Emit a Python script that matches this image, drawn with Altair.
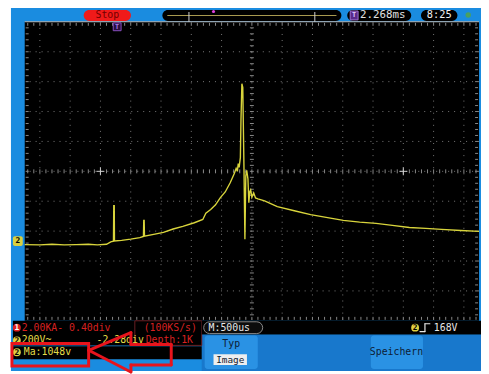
import altair as alt
import pandas as pd

# ---------------- data read from the screen ----------------
# time in ms (M: 500 us / div, trigger at centre), CH2 position in divisions
time_ms = [-3.75, -3.5, -3.3, -3.1, -2.9, -2.7, -2.55, -2.40, -2.33,
           -2.285, -2.28, -2.272, -2.268,
           -2.15, -2.0, -1.85, -1.79, -1.785, -1.778, -1.773,
           -1.6, -1.46, -1.3, -1.14, -0.95, -0.81, -0.76, -0.68, -0.60, -0.52,
           -0.44, -0.36, -0.29, -0.26, -0.24, -0.225, -0.21, -0.19, -0.18,
           -0.165, -0.15, -0.13, -0.115, -0.10, -0.085, -0.065, -0.05, -0.035,
           -0.02, 0.0, 0.03, 0.06, 0.10, 0.21, 0.42, 0.70, 0.97, 1.25, 1.51,
           1.78, 2.05, 2.32, 2.60, 2.87, 3.13, 3.45, 3.75]
ch2_div = [-2.45, -2.46, -2.44, -2.46, -2.45, -2.44, -2.46, -2.44, -2.36,
           -2.34, -1.15, -1.15, -2.33,
           -2.31, -2.27, -2.22, -2.18, -1.64, -1.64, -2.17,
           -2.10, -2.04, -1.93, -1.84, -1.72, -1.61, -1.40, -1.28, -1.12, -0.88,
           -0.69, -0.39, -0.07, 0.10, 0.0, 0.26, 0.13, 0.46, 1.7,
           2.93, 2.80, 0.05, -2.27, -0.15, 0.03, -0.25, -1.05, -0.68,
           -0.62, -0.86, -0.72, -0.89, -0.92, -0.99, -1.18, -1.32, -1.45, -1.55, -1.64,
           -1.70, -1.74, -1.81, -1.88, -1.91, -1.94, -1.98, -2.01]

v_grid_ms = [-3.5, -3.0, -2.5, -2.0, -1.5, -1.0, -0.5, 0.0, 0.5, 1.0, 1.5, 2.0, 2.5, 3.0, 3.5]
h_grid_div = [-4, -3, -2, -1, 0, 1, 2, 3, 4]
cross_ms = [-2.5, 2.5]
minor_x = [round(-3.7 + 0.1 * i, 2) for i in range(75)]
minor_y = [round(-4.8 + 0.2 * i, 2) for i in range(49)]

# ---------------- layout ----------------
W, H = 462, 304
OX, OY = 25, 19          # page position of the plot area
ONE = pd.DataFrame({"k": [0]})
FONT = "DejaVu Sans Mono"

xs = alt.Scale(domain=[-3.75, 3.75], nice=False, zero=False)
ys = alt.Scale(domain=[-5, 5], nice=False, zero=False)

BLUE = "#1a8ce0"
BLUE_DK = "#1878cc"
BTN = "#2a92e4"
RED_T = "#d82020"
YEL_T = "#e4dc48"
TRACE = "#d8d43c"
GRID = "#7a7a7a"
ARROW = "#e8141c"


def rect(x1, y1, x2, y2, fill, stroke=None, sw=1, r=0):
    kw = dict(fill=fill, cornerRadius=r)
    if stroke:
        kw.update(stroke=stroke, strokeWidth=sw)
    return alt.Chart(ONE).mark_rect(**kw).encode(
        x=alt.value(x1 - OX), x2=alt.value(x2 - OX),
        y=alt.value(y1 - OY), y2=alt.value(y2 - OY))


def seg(x1, y1, x2, y2, color, sw=1):
    return alt.Chart(ONE).mark_rule(color=color, strokeWidth=sw, strokeCap="round").encode(
        x=alt.value(x1 - OX), x2=alt.value(x2 - OX),
        y=alt.value(y1 - OY), y2=alt.value(y2 - OY))


def text(x, y, s, color, size=10, align="left", weight="normal"):
    return alt.Chart(ONE).mark_text(
        align=align, baseline="middle", font=FONT, fontSize=size,
        color=color, fontWeight=weight).encode(
        x=alt.value(x - OX), y=alt.value(y - OY), text=alt.value(s))


def dot(x, y, color, size=64):
    return alt.Chart(ONE).mark_circle(size=size, color=color, opacity=1).encode(
        x=alt.value(x - OX), y=alt.value(y - OY))


layers = []
# frame + screen
layers.append(rect(11, 0, 489, 374, BLUE))
layers.append(rect(25, 19, 487, 323, "black"))
layers.append(rect(25, 18.5, 487, 19.5, "#b8b8b8"))

# grid
vg = pd.DataFrame({"t": v_grid_ms})
hg = pd.DataFrame({"v": h_grid_div})
layers.append(alt.Chart(vg).mark_rule(color=GRID, strokeWidth=1, strokeDash=[1, 5.16]).encode(
    x=alt.X("t:Q", scale=xs, axis=None)))
layers.append(alt.Chart(hg).mark_rule(color=GRID, strokeWidth=1, strokeDash=[1, 5.08]).encode(
    y=alt.Y("v:Q", scale=ys, axis=None)))

mx = pd.DataFrame({"t": minor_x})
my = pd.DataFrame({"v": minor_y})
for y1, y2 in [(1, 4), (H - 4, H - 1), (H / 2 - 2, H / 2 + 2)]:
    layers.append(alt.Chart(mx).mark_rule(color="#8a8a8a", strokeWidth=1).encode(
        x=alt.X("t:Q", scale=xs, axis=None), y=alt.value(y1), y2=alt.value(y2)))
for x1, x2 in [(1, 4), (W - 4, W - 1), (W / 2 - 2, W / 2 + 2)]:
    layers.append(alt.Chart(my).mark_rule(color="#8a8a8a", strokeWidth=1).encode(
        y=alt.Y("v:Q", scale=ys, axis=None), x=alt.value(x1), x2=alt.value(x2)))

cr = pd.DataFrame({"t": cross_ms, "v": [0, 0]})
layers.append(alt.Chart(cr).mark_point(shape="M-1,0H1M0,-1V1", size=64, stroke="#d0d0d0",
                                       strokeWidth=1, opacity=1).encode(
    x=alt.X("t:Q", scale=xs, axis=None), y=alt.Y("v:Q", scale=ys, axis=None)))

# trace
tr = pd.DataFrame({"t": time_ms, "v": ch2_div, "i": list(range(len(time_ms)))})
layers.append(alt.Chart(tr).mark_line(color=TRACE, strokeWidth=1.4).encode(
    x=alt.X("t:Q", scale=xs, axis=None), y=alt.Y("v:Q", scale=ys, axis=None),
    order="i:Q"))

# markers on the screen
layers.append(rect(13, 237, 23, 247, "#d8d040", r=2))
layers.append(text(18, 242, "2", "black", 8, "center", "bold"))
layers.append(rect(115, 20, 123, 28, "#2a1040", stroke="#8a50c0"))
layers.append(text(119, 24.5, "T", "#a878e8", 7, "center", "bold"))

# top status bar
layers.append(rect(85, 7, 133, 18, "#f01a1a", r=6))
layers.append(text(109, 12.5, "Stop", "#700000", 10, "center"))
layers.append(rect(165, 7, 347, 18, "black", r=6))
layers.append(rect(170, 12, 342, 13, "#a89a50"))
layers.append(rect(191.5, 9, 192.5, 19, "#d0d0d0"))
layers.append(rect(319.5, 9, 320.5, 19, "#d0d0d0"))
layers.append(dot(217, 8.5, "#e040e0", 10))
layers.append(rect(353, 7, 418, 18, "black", r=6))
layers.append(rect(356, 8, 364, 17, "#5a2a8a", stroke="#a070d0"))
layers.append(text(360, 12.5, "T", "#e0c8ff", 7, "center", "bold"))
layers.append(text(366, 12.5, "2.268ms", "#e0e0e0", 11))
layers.append(rect(428, 7, 465, 18, "black", r=6))
layers.append(text(446.5, 12.5, "8:25", "#f0f0f0", 10.5, "center"))
layers.append(dot(476, 12, "#4aa060", 30))

# bottom status area
layers.append(rect(205, 337, 489, 374, BLUE_DK))
layers.append(rect(13, 323, 137, 348, "black"))
layers.append(rect(137, 323, 205, 348, "black", stroke="#6a1818"))
layers.append(rect(13, 349, 205, 362, "black"))
layers.append(rect(205, 323, 489, 337, "black"))
layers.append(rect(207, 324, 267, 336, "#0c0c0c", stroke="#8a8a8a", r=6))
layers.append(rect(208, 338, 262, 372, BTN, r=3))
layers.append(rect(377, 338, 430, 372, BTN, r=3))
layers.append(rect(217, 357, 251, 368, "#eeeeee"))

layers.append(dot(17, 330, "#e02020"))
layers.append(text(17, 330.5, "1", "white", 8, "center", "bold"))
layers.append(text(22, 330, "2.00KA-  0.40div", RED_T, 10))
layers.append(text(146, 330, "(100KS/s)", RED_T, 10))
layers.append(dot(17, 343, "#e0d040"))
layers.append(text(17, 343.5, "2", "black", 8, "center", "bold"))
layers.append(text(22, 343, "200V~", YEL_T, 10))
layers.append(text(98, 343, "-2.28div", YEL_T, 10))
layers.append(text(148, 343, "Depth:1K", RED_T, 10))
layers.append(dot(17, 355, "#e0d040"))
layers.append(text(17, 355.5, "2", "black", 8, "center", "bold"))
layers.append(text(24, 355, "Ma:1048v", YEL_T, 10))
layers.append(text(212, 330, "M:500us", "#e8e8e8", 10))
layers.append(dot(422, 330, "#e0d040"))
layers.append(text(422, 330.5, "2", "black", 8, "center", "bold"))
layers.append(seg(427, 334, 432, 334, "#e8e8e8", 1.2))
layers.append(seg(432, 334, 432, 326, "#e8e8e8", 1.2))
layers.append(seg(432, 326, 437, 326, "#e8e8e8", 1.2))
layers.append(text(441, 330, "168V", "#e8e8e8", 10))
layers.append(text(235, 347, "Typ", "#0d2035", 10, "center"))
layers.append(text(234, 362.5, "Image", "#102030", 9.5, "center"))
layers.append(text(403, 355, "Speichern", "#0d2035", 10, "center"))

# red annotation: box and arrow outline
layers.append(rect(12, 346, 90, 369, "transparent", stroke=ARROW, sw=3))
arrow_pts = [(90, 353), (133, 335), (133, 347), (174, 347), (174, 368),
             (133, 368), (133, 375), (90, 353)]
for (a, b), (c, d) in zip(arrow_pts[:-1], arrow_pts[1:]):
    layers.append(seg(a, b, c, d, ARROW, 3))

chart = alt.layer(*layers).properties(
    width=W, height=H,
    padding={"left": 17, "top": 11, "right": 2, "bottom": 51},
    autosize=alt.AutoSizeParams(type="none"),
    background="white",
).configure_view(stroke=None)

chart.save("out.html", embed_options={"renderer": "svg", "actions": False})
